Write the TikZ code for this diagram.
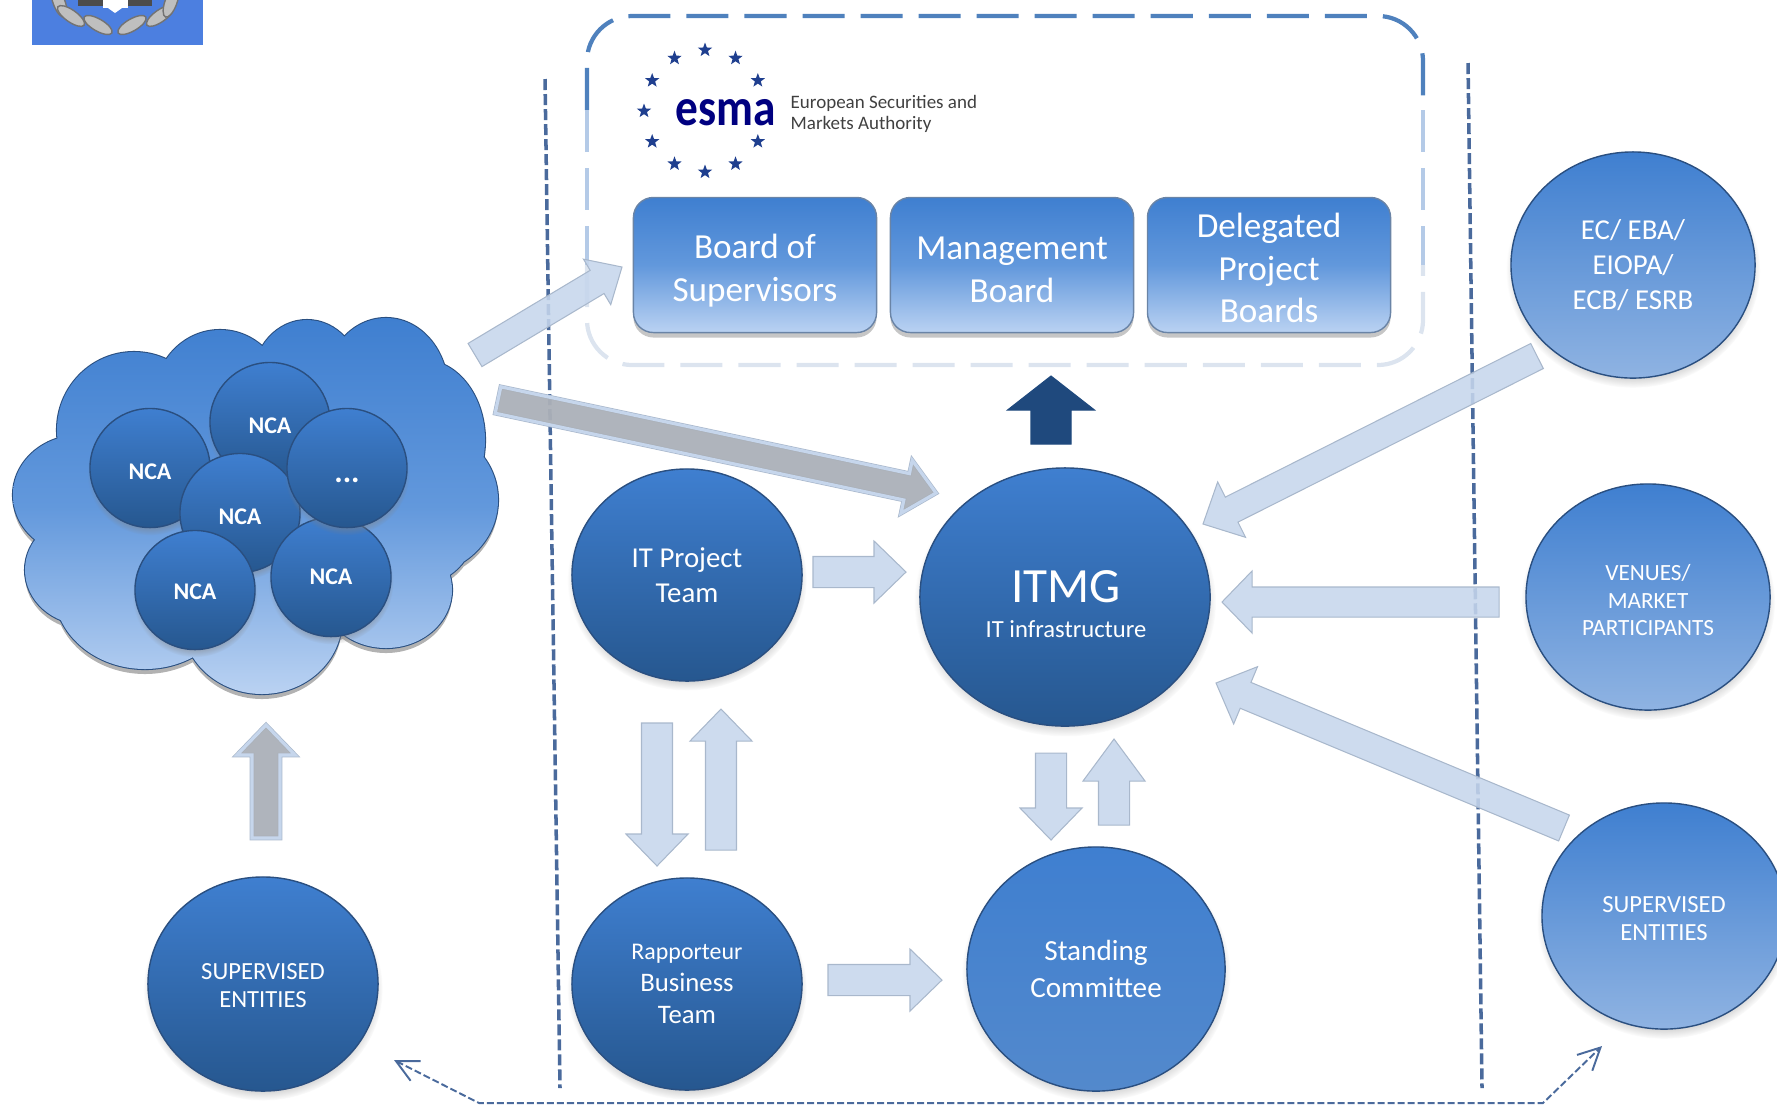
\documentclass[tikz,border=0pt]{standalone}
\usepackage{fontspec}
\setmainfont{Carlito}
\usetikzlibrary{calc,shapes.geometric,shadows,arrows.meta}

\definecolor{ballhi}{HTML}{3F7FD0}
\definecolor{balldark}{HTML}{26578F}
\definecolor{ballmid}{HTML}{5389CC}
\definecolor{balllow}{HTML}{8FB3E2}
\definecolor{ballrim}{HTML}{2A4F80}
\definecolor{boxlow}{HTML}{BAD2F2}
\definecolor{boxmid}{HTML}{6298DC}
\definecolor{arrowfill}{HTML}{C6D6EC}
\definecolor{arrowline}{HTML}{A9B8CC}
\definecolor{arrowgrey}{HTML}{ABB0B8}
\definecolor{arrownavy}{HTML}{1F497D}
\definecolor{sepline}{HTML}{4A6A9C}
\definecolor{logoblue}{HTML}{4C7FE0}
\definecolor{esmanavy}{HTML}{1F3F8F}
\definecolor{esmatop}{HTML}{4F81BD}
\definecolor{esmamid}{HTML}{B4CAE7}
\definecolor{esmalow}{HTML}{DCE4EF}

\tikzset{
  shaftw/.store in=\shaftw, headw/.store in=\headw, headl/.store in=\headl,
  shaftw=.155cm, headw=.31cm, headl=.32cm,
  blockpath/.style={to path={
    ($(\tikztotarget)!\headl!(\tikztostart)$) coordinate (neck)
    ($(\tikztostart)!\shaftw!90:(\tikztotarget)$)
    -- ($(neck)!\shaftw!90:(\tikztotarget)$)
    -- ($(neck)!\headw!90:(\tikztotarget)$)
    -- (\tikztotarget)
    -- ($(neck)!\headw!-90:(\tikztotarget)$)
    -- ($(neck)!\shaftw!-90:(\tikztotarget)$)
    -- ($(\tikztostart)!\shaftw!-90:(\tikztotarget)$)
    -- cycle}},
  lightarrow/.style={blockpath, draw=arrowline, fill=arrowfill, line width=.3pt, fill opacity=.88},
  greyarrow/.style={blockpath, preaction={draw=arrowline, line width=1.3pt},
    draw=arrowfill, line width=.9pt, fill=arrowgrey, fill opacity=.95},
  navyarrow/.style={blockpath, fill=arrownavy, draw=arrownavy, line width=.3pt},
  ball/.style={ellipse, inner sep=0pt, draw=ballrim, line width=.4pt, text=white, align=center,
    circular drop shadow={shadow xshift=0cm, shadow yshift=-.05cm, shadow scale=1.04, opacity=.55}},
  darkball/.style={ball, top color=ballhi, bottom color=balldark},
  midball/.style={ball, top color=ballhi, bottom color=ballmid},
  lightball/.style={ball, top color=ballhi, bottom color=balllow},
  ncaball/.style={darkball, minimum width=1.2cm, minimum height=1.19cm, text height=6.4pt, text depth=0pt,
    font=\fontsize{6.8}{8}\selectfont\bfseries},
  boardbox/.style={rectangle, rounded corners=.2cm, minimum width=2.43cm, minimum height=1.35cm,
    inner sep=0pt, draw=ballrim!70, line width=.4pt, text=white, align=center,
    top color=ballhi, bottom color=boxlow, middle color=boxmid,
    drop shadow={shadow xshift=0cm, shadow yshift=-.05cm, opacity=.45},
    font=\fontsize{10}{12.2}\selectfont},
  sepdash/.style={draw=sepline, line width=1pt, dash pattern=on .11cm off .04cm},
  esmadash/.style={line width=1.2pt, rounded corners=.45cm, dash pattern=on .42cm off .16cm},
  leaf/.style={ellipse, inner sep=0pt, minimum width=.32cm, minimum height=.12cm,
    fill=black!25, draw=black!55, line width=.4pt},
  esmastar/.style={star, star points=5, star point ratio=2.4, inner sep=0pt, minimum size=.15cm,
    fill=esmanavy}
}

\newcommand{\cloudpath}{
  (134,430) ellipse [x radius=77, y radius=78]
  (220,400) ellipse [x radius=66, y radius=70]
  (307,380) ellipse [x radius=54, y radius=60]
  (386,390) ellipse [x radius=62, y radius=72]
  (423,440) ellipse [x radius=62, y radius=80]
  (418,500) ellipse [x radius=80, y radius=75]
  (396,540) ellipse [x radius=75, y radius=50]
  (386,590) ellipse [x radius=66, y radius=58]
  (262,620) ellipse [x radius=80, y radius=74]
  (145,590) ellipse [x radius=91, y radius=79]
  (86,570) ellipse [x radius=61, y radius=55]
  (80,495) ellipse [x radius=67, y radius=60]
  (257,500) ellipse [x radius=190, y radius=150]
}

\begin{document}
\begin{tikzpicture}[x=.01cm,y=-.01cm]
    \useasboundingbox (0,0) rectangle (1777,1105);

    % Emblem in the top left corner
    \begin{scope}
        \clip (32,0) rectangle (203,45);
        \fill[logoblue] (32,0) rectangle (203,45);
        \node[leaf, rotate=-70] (leafe) at (59,2) {};
        \node[leaf, rotate=-35] (leafa) at (71,16) {};
        \node[leaf, rotate=-30] (leafb) at (98,25) {};
        \node[leaf, rotate=30] (leafc) at (132,25) {};
        \node[leaf, rotate=35] (leafd) at (160,16) {};
        \node[leaf, rotate=70] (leaff) at (171,2) {};
        \fill[black!70] (78,0) rectangle (152,6);
        \fill[white] (103,0) rectangle (128,8);
        \fill[white] (108,8) -- (122,8) -- (115,13) -- cycle;
    \end{scope}

    % Dashed box around the ESMA bodies
    \draw[esmadash, draw=esmatop] (587,110) -- (587,16) -- (1423,16) -- (1423,110);
    \draw[esmadash, draw=esmamid] (587,110) -- (587,265);
    \draw[esmadash, draw=esmamid] (1423,110) -- (1423,265);
    \draw[esmadash, draw=esmalow] (587,265) -- (587,365) -- (1423,365) -- (1423,265);

    % ESMA logo
    \coordinate (starhub) at (705,111);
    \foreach \a in {30,60,90,120,150,180,210,240,270,300,330}
        \node[esmastar] (star\a) at ($(starhub)+(\a:61)$) {};
    \node[xscale=.86, transform shape, text=blue!50!black, font=\fontsize{15}{15}\selectfont\bfseries] (esmaword) at (726,113) {esma};
    \node[anchor=west, align=left, text=black!75, inner sep=0pt, font=\fontsize{5.4}{5.8}\selectfont] (esmaname) at (790,114) {European Securities and\\Markets Authority};

    % The three boards
    \node[boardbox] (board) at (755,265) {\rule{0pt}{10pt}Board of\\Supervisors};
    \node[boardbox] (mgmt) at (1012,265) {\rule{0pt}{9.3pt}Management\\Board};
    \node[boardbox] (delegated) at (1269,265) {\rule{0pt}{8.6pt}Delegated\\Project\\Boards};

    % Dashed separators
    \coordinate (septopl) at (545,79);
    \coordinate (sepbotl) at (560,1088);
    \coordinate (septopr) at (1468,63);
    \coordinate (sepbotr) at (1482,1088);
    \draw[sepdash] (septopl) -- (sepbotl);
    \draw[sepdash] (septopr) -- (sepbotr);

    % Cloud of authorities
    \fill[black, opacity=.3, yshift=-.05cm] \cloudpath;
    \draw[ballrim, line width=.6pt] \cloudpath;
    \shade[top color=ballhi, bottom color=boxlow, middle color=boxmid] \cloudpath;

    \node[ncaball] (ncatop) at (270,422) {NCA};
    \node[ncaball] (ncaleft) at (150,468) {NCA};
    \node[ncaball] (ncamid) at (240,513) {NCA};
    \node[ncaball, text height=4.4pt] (ncaright) at (331,577) {NCA};
    \node[ncaball, text height=8pt, font=\fontsize{9}{9}\selectfont\bfseries] (ncadots) at (347,468) {...};
    \node[ncaball, text height=5.4pt] (ncalow) at (195,590) {NCA};

    % Main bodies
    \node[darkball, minimum width=2.9cm, minimum height=2.58cm] (itmg) at (1065,597) {};
    \node[text=white, align=center, inner sep=0pt] (itmgtext) at (1066,604)
        {{\fontsize{14}{19}\selectfont ITMG}\\[-2pt]{\fontsize{7}{9}\selectfont IT infrastructure}};
    \node[darkball, minimum width=2.3cm, minimum height=2.12cm, font=\fontsize{8.2}{10}\selectfont] (itteam) at (687,575) {IT Project\\Team};
    \node[darkball, minimum width=2.3cm, minimum height=2.12cm, font=\fontsize{7.6}{9}\selectfont] (rapporteur) at (687,984) {{\fontsize{6.8}{9}\selectfont Rapporteur}\\Business\\Team};
    \node[midball, minimum width=2.58cm, minimum height=2.44cm, font=\fontsize{8.3}{10.3}\selectfont] (standing) at (1096,969) {Standing\\Committee};
    \node[darkball, minimum width=2.3cm, minimum height=2.14cm, font=\fontsize{7}{8}\selectfont] (supleft) at (263,984) {\rule{0pt}{5.6pt}SUPERVISED\\ENTITIES};

    % Outside parties
    \node[lightball, minimum width=2.44cm, minimum height=2.26cm, font=\fontsize{8.2}{10}\selectfont] (external) at (1633,265) {EC/ EBA/\\EIOPA/\\ECB/ ESRB};
    \node[lightball, minimum width=2.44cm, minimum height=2.26cm, font=\fontsize{6.6}{7.8}\selectfont] (venues) at (1648,597) {\rule{0pt}{6.3pt}VENUES/\\MARKET\\PARTICIPANTS};
    \node[lightball, minimum width=2.44cm, minimum height=2.26cm, font=\fontsize{7}{8}\selectfont] (supright) at (1664,916) {\rule{0pt}{5.8pt}SUPERVISED\\ENTITIES};

    % Free ends of the block arrows
    \coordinate (cloudout) at (475,355);
    \coordinate (boardin) at (622,267);
    \coordinate (cloudoutb) at (498,400);
    \coordinate (itmgtop) at (936,493);
    \coordinate (itmgup) at (1051,444);
    \coordinate (boardsdown) at (1051,376);
    \coordinate (teamout) at (813,572);
    \coordinate (itmgleft) at (906,572);
    \coordinate (teamdown) at (657,723);
    \coordinate (rapptop) at (657,866);
    \coordinate (rappup) at (721,850);
    \coordinate (teambot) at (721,709);
    \coordinate (rappout) at (828,980);
    \coordinate (standleft) at (942,980);
    \coordinate (itmgdown) at (1051,753);
    \coordinate (standtop) at (1051,840);
    \coordinate (standup) at (1114,825);
    \coordinate (itmgbot) at (1114,739);
    \coordinate (supup) at (266,838);
    \coordinate (cloudbot) at (266,725);
    \coordinate (extout) at (1537,356);
    \coordinate (itmgne) at (1203,524);
    \coordinate (venout) at (1499,602);
    \coordinate (itmge) at (1222,602);
    \coordinate (supout) at (1564,828);
    \coordinate (itmgse) at (1216,683);

    % Block arrows
    \draw[lightarrow, shaftw=.135cm, headw=.265cm, headl=.29cm] (cloudout) to (boardin);
    \draw[greyarrow, shaftw=.135cm, headw=.27cm, headl=.3cm] (cloudoutb) to (itmgtop);
    \draw[navyarrow, shaftw=.2cm, headw=.435cm, headl=.34cm] (itmgup) to (boardsdown);
    \draw[lightarrow] (teamout) to (itmgleft);
    \draw[lightarrow] (teamdown) to (rapptop);
    \draw[lightarrow] (rappup) to (teambot);
    \draw[lightarrow] (rappout) to (standleft);
    \draw[lightarrow] (itmgdown) to (standtop);
    \draw[lightarrow, headl=.42cm] (standup) to (itmgbot);
    \draw[greyarrow, shaftw=.14cm, headw=.29cm, headl=.3cm] (supup) to (cloudbot);
    \draw[lightarrow, shaftw=.14cm] (extout) to (itmgne);
    \draw[lightarrow, shaftw=.15cm, headl=.3cm] (venout) to (itmge);
    \draw[lightarrow, shaftw=.14cm] (supout) to (itmgse);

    % Dashed link under the picture
    \coordinate (linkleft) at (394,1060);
    \coordinate (linkcornerl) at (479,1103);
    \coordinate (linkcornerr) at (1543,1103);
    \coordinate (linkright) at (1602,1046);
    \draw[sepline, line width=.55pt, dash pattern=on .07cm off .03cm,
        {Straight Barb[length=.22cm, width=.22cm]}-{Straight Barb[length=.22cm, width=.22cm]}]
        (linkleft) -- (linkcornerl) -- (linkcornerr) -- (linkright);
\end{tikzpicture}
\end{document}
